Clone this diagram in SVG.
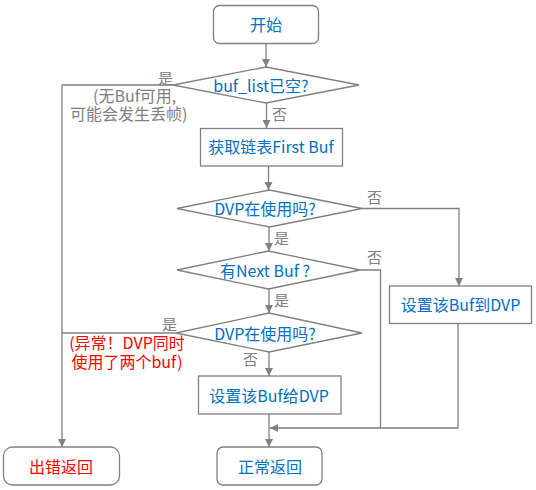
<svg xmlns="http://www.w3.org/2000/svg" width="536" height="490" viewBox="0 0 536 490">
<style>
  .shape{fill:#ffffff;stroke:#808080;stroke-width:1.3}
  .t{font-family:"Noto Sans CJK SC","Liberation Sans",sans-serif;font-size:16px;fill:#0070C0;text-anchor:middle;dominant-baseline:central}
  .red{fill:#FF0000}
  .lbl{font-family:"Noto Sans CJK SC","Liberation Sans",sans-serif;font-size:15px;fill:#808080;dominant-baseline:central}
  .note{font-family:"Noto Sans CJK SC","Liberation Sans",sans-serif;font-size:16px;fill:#808080;dominant-baseline:central}
  .err{font-family:"Noto Sans CJK SC","Liberation Sans",sans-serif;font-size:16px;fill:#FF0000;text-anchor:middle;dominant-baseline:central}
  .c{fill:none;stroke:#808080;stroke-width:1.3}
</style>
<defs>
  <marker id="arr" viewBox="0 0 10 10" refX="10" refY="5" markerWidth="8" markerHeight="8" markerUnits="userSpaceOnUse" orient="auto">
    <path d="M0,0 L10,5 L0,10 z" fill="#808080"/>
  </marker>
</defs>
<rect width="536" height="490" fill="#ffffff"/>
<g id="connectors">
  <path class="c" d="M266,43 V67" marker-end="url(#arr)"/>
  <path class="c" d="M173,85 H62 V447" marker-end="url(#arr)"/>
  <path class="c" d="M266.5,103 V128" marker-end="url(#arr)"/>
  <path class="c" d="M268.5,166 V190" marker-end="url(#arr)"/>
  <path class="c" d="M362,208.5 H459 V286" marker-end="url(#arr)"/>
  <path class="c" d="M269,227 V251" marker-end="url(#arr)"/>
  <path class="c" d="M360,270 H380.5 V428"/>
  <path class="c" d="M269,289 V313" marker-end="url(#arr)"/>
  <path class="c" d="M176,333 H62"/>
  <path class="c" d="M269,352 V376" marker-end="url(#arr)"/>
  <path class="c" d="M269,414 V447" marker-end="url(#arr)"/>
  <path class="c" d="M458,323 V428 H270" marker-end="url(#arr)"/>
</g>
<g id="labels">
  <text class="lbl" x="158" y="77">是</text>
  <text class="note" x="93" y="94.5">(无Buf可用,</text>
  <text class="note" x="70" y="113">可能会发生丢帧)</text>
  <text class="lbl" x="272" y="113">否</text>
  <text class="lbl" x="367" y="196">否</text>
  <text class="lbl" x="274" y="237">是</text>
  <text class="lbl" x="367" y="256">否</text>
  <text class="lbl" x="274" y="299">是</text>
  <text class="lbl" x="162" y="323">是</text>
  <text class="lbl" x="243" y="358">否</text>
  <text class="err" x="127" y="342">(异常！DVP同时</text>
  <text class="err" x="127" y="361">使用了两个buf)</text>
</g>
<g id="start">
  <rect class="shape" x="213.5" y="5.5" width="105" height="38" rx="6"/>
  <text class="t" x="266" y="24">开始</text>
</g>
<g id="bufListEmpty">
  <polygon class="shape" points="173,85 266,67 359,85 266,103"/>
  <text class="t" x="261" y="85">buf_list已空?</text>
</g>
<g id="getFirstBuf">
  <rect class="shape" x="200.5" y="128.5" width="142" height="37.5"/>
  <text class="t" x="271" y="146">获取链表First Buf</text>
</g>
<g id="dvpInUse1">
  <polygon class="shape" points="177,208.5 269.5,190 362,208.5 269.5,227"/>
  <text class="t" x="265" y="208">DVP在使用吗?</text>
</g>
<g id="hasNextBuf">
  <polygon class="shape" points="177,270 268.5,251 360,270 268.5,289"/>
  <text class="t" x="265" y="270">有Next Buf ?</text>
</g>
<g id="dvpInUse2">
  <polygon class="shape" points="176,333 269,313 362,333 269,352"/>
  <text class="t" x="265" y="333">DVP在使用吗?</text>
</g>
<g id="setBufToDvp">
  <rect class="shape" x="389.5" y="286" width="142" height="37.5"/>
  <text class="t" x="460.5" y="304">设置该Buf到DVP</text>
</g>
<g id="setBufGiveDvp">
  <rect class="shape" x="198.5" y="376" width="142.5" height="38"/>
  <text class="t" x="269" y="395">设置该Buf给DVP</text>
</g>
<g id="errorReturn">
  <rect class="shape" x="3.5" y="447" width="116" height="38" rx="9"/>
  <text class="t red" x="61" y="466">出错返回</text>
</g>
<g id="normalReturn">
  <rect class="shape" x="217" y="447" width="105" height="38" rx="6"/>
  <text class="t" x="270" y="466">正常返回</text>
</g>
</svg>
